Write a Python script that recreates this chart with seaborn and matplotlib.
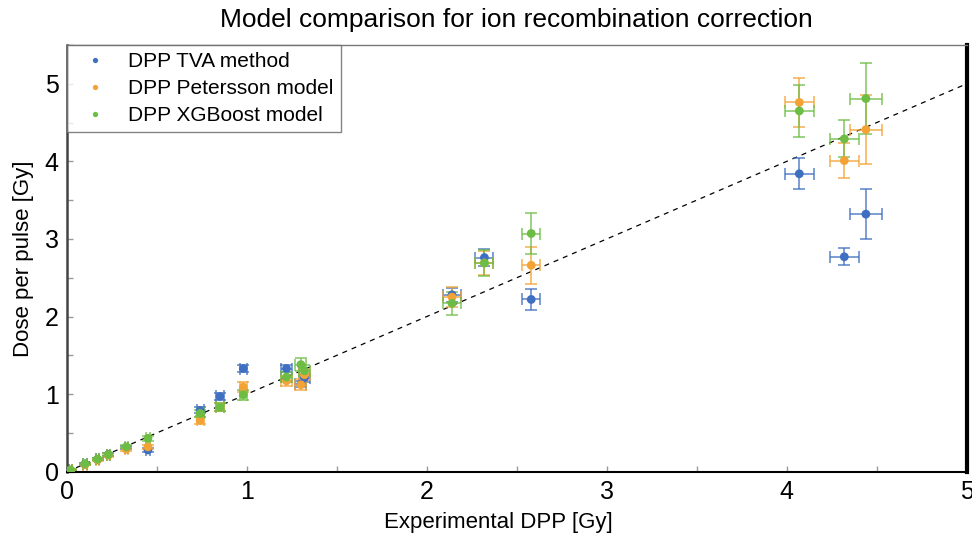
import numpy as np
import pandas as pd
import matplotlib
matplotlib.use("Agg")
import matplotlib.pyplot as plt
import seaborn as sns
from matplotlib.ticker import MultipleLocator

sns.set_theme(style="white")
plt.rcParams['font.family'] = ['Liberation Sans', 'DejaVu Sans']
plt.rcParams['text.color'] = 'black'
plt.rcParams['axes.labelcolor'] = 'black'
plt.rcParams['xtick.labelcolor'] = 'black'
plt.rcParams['ytick.labelcolor'] = 'black'

x_exp = [0.02, 0.10, 0.17, 0.23, 0.33, 0.45, 0.74, 0.85, 0.98, 1.22, 1.30, 1.32, 2.14, 2.32, 2.58, 4.07, 4.32, 4.44]
x_err = [0.01, 0.01, 0.01, 0.01, 0.01, 0.01, 0.02, 0.02, 0.02, 0.03, 0.03, 0.03, 0.05, 0.05, 0.05, 0.08, 0.08, 0.09]

tva = [0.02, 0.10, 0.16, 0.22, 0.31, 0.28, 0.79, 0.97, 1.33, 1.33, 1.13, 1.21, 2.28, 2.76, 2.22, 3.84, 2.77, 3.32]
tva_err = [0.01, 0.01, 0.01, 0.02, 0.02, 0.02, 0.04, 0.04, 0.04, 0.04, 0.04, 0.05, 0.09, 0.11, 0.14, 0.20, 0.11, 0.32]

pet = [0.02, 0.09, 0.15, 0.21, 0.29, 0.32, 0.66, 0.83, 1.09, 1.17, 1.12, 1.25, 2.25, 2.69, 2.66, 4.76, 4.01, 4.41]
pet_err = [0.01, 0.01, 0.01, 0.02, 0.02, 0.03, 0.04, 0.05, 0.06, 0.06, 0.07, 0.07, 0.13, 0.16, 0.24, 0.32, 0.23, 0.44]

xgb = [0.02, 0.10, 0.16, 0.22, 0.32, 0.43, 0.75, 0.83, 0.99, 1.22, 1.38, 1.30, 2.17, 2.69, 3.07, 4.65, 4.29, 4.81]
xgb_err = [0.01, 0.01, 0.01, 0.02, 0.02, 0.03, 0.05, 0.05, 0.06, 0.06, 0.08, 0.07, 0.15, 0.17, 0.26, 0.33, 0.24, 0.46]

labels = ["DPP TVA method", "DPP Petersson model", "DPP XGBoost model"]
colors = ["#3f6fc0", "#f3a336", "#6dbd45"]

series = [(tva, tva_err), (pet, pet_err), (xgb, xgb_err)]
df = pd.concat([
    pd.DataFrame({"x": x_exp, "y": vals, "model": lab})
    for (vals, _), lab in zip(series, labels)
], ignore_index=True)

fig = plt.figure(figsize=(9.72, 5.39), dpi=100)
ax = fig.add_axes([0.0689, 0.1249, 0.9256, 0.7916])

# identity line
ax.plot([0, 5], [0, 5], ls=(0, (4, 4)), color="black", lw=0.9, zorder=1)

for (vals, err), col in zip(series, colors):
    ax.errorbar(x_exp, vals, xerr=x_err, yerr=err, fmt="none", ecolor=col,
                elinewidth=1.2, capsize=4, capthick=1.2, alpha=0.8, zorder=2)

sns.scatterplot(data=df, x="x", y="y", hue="model", palette=colors, s=40,
                edgecolor="none", ax=ax, zorder=3, legend=True)

ax.set_xlim(0, 5)
ax.set_ylim(0, 5.5)
ax.xaxis.set_major_locator(MultipleLocator(1))
ax.yaxis.set_major_locator(MultipleLocator(1))
ax.xaxis.set_minor_locator(MultipleLocator(0.5))
ax.yaxis.set_minor_locator(MultipleLocator(0.5))
ax.tick_params(which="both", direction="in", color="#999999", length=4, width=1,
               labelsize=18, pad=6, left=True, bottom=True)

ax.set_xlabel("Experimental DPP [Gy]", fontsize=16, labelpad=2)
ax.xaxis.set_label_coords(0.479, -0.095)
ax.set_ylabel("Dose per pulse [Gy]", fontsize=16, labelpad=8)
ax.set_title("Model comparison for ion recombination correction", fontsize=19,
             pad=13)

ax.spines["left"].set_color("#444444"); ax.spines["left"].set_linewidth(1.8)
ax.spines["bottom"].set_color("black"); ax.spines["bottom"].set_linewidth(1.5)
ax.spines["right"].set_color("black"); ax.spines["right"].set_linewidth(3)
ax.spines["top"].set_color("#777777"); ax.spines["top"].set_linewidth(1)

leg = ax.legend(loc="upper left", bbox_to_anchor=(0, 1.0), fontsize=15,
                frameon=True, fancybox=False, edgecolor="#666666",
                markerscale=0.6, borderpad=0.35, handletextpad=0.6,
                borderaxespad=0, labelspacing=0.38, handlelength=2.0)
leg.get_frame().set_linewidth(1)

fig.savefig("out.png", dpi=100)
